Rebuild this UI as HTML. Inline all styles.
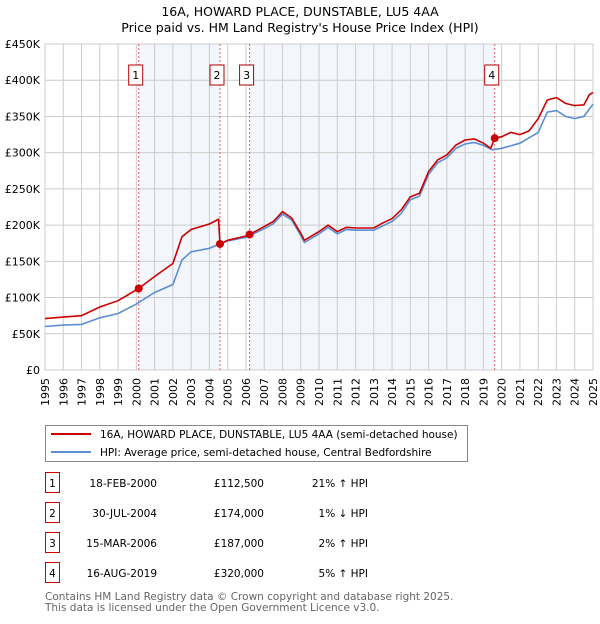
<!DOCTYPE html>
<html><head><meta charset="utf-8"><style>
body{margin:0;background:#fff;font-family:"DejaVu Sans","Liberation Sans",sans-serif}
svg text{font-family:"DejaVu Sans","Liberation Sans",sans-serif}
</style></head><body>
<svg id="c" width="600" height="620" xmlns="http://www.w3.org/2000/svg">
<text x="300" y="16" text-anchor="middle" font-size="12.5">16A, HOWARD PLACE, DUNSTABLE, LU5 4AA</text>
<text x="300" y="32" text-anchor="middle" font-size="12.5">Price paid vs. HM Land Registry's House Price Index (HPI)</text>
<g id="plot"></g>
<g>
<rect x="45.5" y="425.5" width="422" height="36" fill="#fff" stroke="#888"/>
<line x1="51" y1="434" x2="91" y2="434" stroke="#cc0000" stroke-width="2"/>
<text x="100" y="438" font-size="10.5">16A, HOWARD PLACE, DUNSTABLE, LU5 4AA (semi-detached house)</text>
<line x1="51" y1="452" x2="91" y2="452" stroke="#5b8fd4" stroke-width="2"/>
<text x="100" y="456" font-size="10.5">HPI: Average price, semi-detached house, Central Bedfordshire</text>
</g>
<g id="table" font-size="10.5"></g>
<text x="45" y="600" font-size="10.5" fill="#666">Contains HM Land Registry data © Crown copyright and database right 2025.</text>
<text x="45" y="611" font-size="10.5" fill="#666">This data is licensed under the Open Government Licence v3.0.</text>
</svg>
<script>
const yTicks=[0,50000,100000,150000,200000,250000,300000,350000,400000,450000];
const yTickLabels=["£0","£50K","£100K","£150K","£200K","£250K","£300K","£350K","£400K","£450K"];
const years=[1995,1996,1997,1998,1999,2000,2001,2002,2003,2004,2005,2006,2007,2008,2009,2010,2011,2012,2013,2014,2015,2016,2017,2018,2019,2020,2021,2022,2023,2024,2025];
const saleDates=[2000.13,2004.58,2006.2,2019.62];
const salePrices=[112500,174000,187000,320000];
const saleLabels=["1","2","3","4"];
const saleDateText=["18-FEB-2000","30-JUL-2004","15-MAR-2006","16-AUG-2019"];
const salePriceText=["£112,500","£174,000","£187,000","£320,000"];
const saleHpiText=["21% ↑ HPI","1% ↓ HPI","2% ↑ HPI","5% ↑ HPI"];
const redDates=[1995,1996,1997,1998,1999,2000.13,2001,2002,2002.5,2003,2004,2004.5,2004.58,2005,2006,2006.2,2007,2007.5,2008,2008.5,2009,2009.2,2010,2010.5,2011,2011.5,2012,2013,2013.5,2014,2014.5,2015,2015.5,2016,2016.5,2017,2017.5,2018,2018.5,2019,2019.4,2019.62,2020,2020.5,2021,2021.5,2022,2022.5,2023,2023.5,2024,2024.5,2024.8,2025];
const redValues=[71000,73000,75000,87000,95700,112500,129000,147000,184000,194000,201500,208000,174000,179000,185000,187000,198000,205000,218500,210000,188700,179000,191000,200000,191000,197000,196000,196000,203000,209000,221000,239000,244000,274000,290000,297000,310600,317500,319000,313000,306000,320000,322000,328000,325000,330000,347000,372700,376000,368000,365000,366000,380000,383000];
const hpiDates=[1995,1996,1997,1998,1999,2000,2001,2002,2002.5,2003,2004,2004.58,2005,2006,2007,2007.5,2008,2008.5,2009,2009.2,2010,2010.5,2011,2011.5,2012,2013,2013.5,2014,2014.5,2015,2015.5,2016,2016.5,2017,2017.5,2018,2018.5,2019,2019.5,2020,2021,2022,2022.5,2023,2023.5,2024,2024.5,2025];
const hpiValues=[60000,62000,63000,72000,78000,91000,107000,118000,152000,163000,168000,174000,178000,183000,195000,202000,215000,207000,186000,176000,188000,197000,188000,194000,193000,193000,199000,205000,216000,235000,240000,270000,286000,293000,306000,312000,314000,310000,304000,306000,313000,328000,356000,358000,350000,347000,350000,367000];

const NS="http://www.w3.org/2000/svg";
const X0=45,X1=593,Y0=370,Y1=44;
const xs=t=>X0+(t-1995)/30*(X1-X0);
const ys=v=>Y0-v/450000*(Y0-Y1);
function mk(tag,attrs,parent){const e=document.createElementNS(NS,tag);for(const k in attrs)e.setAttribute(k,attrs[k]);parent.appendChild(e);return e;}
const plot=document.getElementById('plot');
for(let i=0;i<saleDates.length;i+=2){
  const r=mk('rect',{x:xs(saleDates[i]),y:Y1,width:xs(saleDates[i+1])-xs(saleDates[i]),height:Y0-Y1,fill:'#f0f4fc',opacity:0.8},plot);
  
  
}
years.forEach(y=>{
  const l=mk('line',{x1:xs(y),x2:xs(y),y1:Y1,y2:Y0,stroke:'#ccc','stroke-width':1},plot);
  
  
  const t=mk('text',{x:0,y:0,'font-size':11,'text-anchor':'end',transform:`translate(${xs(y)+4},${Y0+8}) rotate(-90)`},plot);
  t.textContent=y;
  
  
});
yTicks.forEach((v,i)=>{
  const l=mk('line',{x1:X0,x2:X1,y1:ys(v),y2:ys(v),stroke:'#ccc','stroke-width':1},plot);
  
  
  const t=mk('text',{x:40,y:ys(v)+4,'font-size':11,'text-anchor':'end'},plot);
  t.textContent=yTickLabels[i];
  
  
});
const fr=mk('rect',{x:X0,y:Y1,width:X1-X0,height:Y0-Y1,fill:'none',stroke:'#ccc'},plot);


saleDates.forEach((d,i)=>{
  const l=mk('line',{x1:xs(d),x2:xs(d),y1:Y1,y2:Y0,stroke:'#e06060','stroke-width':1,'stroke-dasharray':'2,2'},plot);
  
  
  const b=mk('rect',{x:xs(d)-10,y:65,width:14,height:20,fill:'#fff',stroke:'#b00000'},plot);
  
  
  const t=mk('text',{x:xs(d)-3,y:79,'font-size':11,'text-anchor':'middle'},plot);
  t.textContent=saleLabels[i];
  
  
});
function path(ds,vs){return ds.map((d,i)=>(i?'L':'M')+xs(d).toFixed(1)+','+ys(vs[i]).toFixed(1)).join('');}
const hp=mk('path',{d:path(hpiDates,hpiValues),fill:'none',stroke:'#5b8fd4','stroke-width':1.6},plot);


const rp=mk('path',{d:path(redDates,redValues),fill:'none',stroke:'#cc0000','stroke-width':1.6},plot);


saleDates.forEach((d,i)=>{
  const c=mk('circle',{cx:xs(d),cy:ys(salePrices[i]),r:4,fill:'#cc0000'},plot);
  
  
});
const tb=document.getElementById('table');
const rowsY=[483,513,543,573];
saleLabels.forEach((s,i)=>{
  const y=rowsY[i];
  const b=mk('rect',{x:45.5,y:y-10.5,width:14,height:20,fill:'#fff',stroke:'#cc0000'},tb);
  
  
  const cells=[[52.5,'middle',s],[157,'end',saleDateText[i]],[264,'end',salePriceText[i]],[368,'end',saleHpiText[i]]];
  cells.forEach(c=>{
    const t=mk('text',{x:c[0],y:y+4,'text-anchor':c[1]},tb);
    t.textContent=c[2];
    
    
  });
});
</script>
</body></html>
